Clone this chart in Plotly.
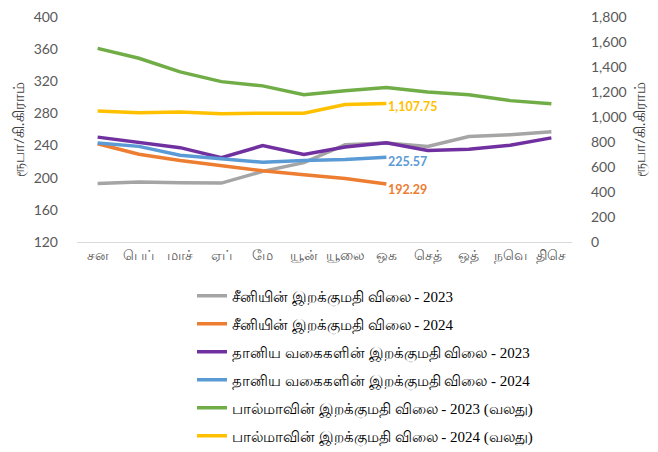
import plotly.graph_objects as go

months = ["சன", "பெப்", "மாச்", "ஏப்", "மே", "யூன்", "யூலை", "ஒக", "செத்", "ஒத்", "நவெ", "திசெ"]

sugar_2023 = [192.8, 194.8, 193.6, 193.3, 207.9, 218.8, 241.1, 243.2, 239.0, 251.2, 253.6, 257.3]
sugar_2024 = [242.3, 229.3, 221.3, 215.2, 208.6, 203.7, 199.0, 192.29]
cereal_2023 = [250.5, 244.4, 237.4, 224.9, 239.9, 228.9, 238.3, 243.5, 234.0, 235.4, 240.3, 249.6]
cereal_2024 = [243.2, 239.0, 228.0, 224.0, 219.2, 221.3, 222.8, 225.57]
milk_2023 = [1549, 1470, 1361, 1283, 1249, 1178, 1210, 1236, 1200, 1178, 1131, 1106]
milk_2024 = [1048, 1035, 1040, 1027, 1030, 1030, 1100, 1107.75]

names = [
    "சீனியின் இறக்குமதி விலை - 2023",
    "சீனியின் இறக்குமதி விலை - 2024",
    "தானிய வகைகளின் இறக்குமதி விலை - 2023",
    "தானிய வகைகளின் இறக்குமதி விலை - 2024",
    "பால்மாவின் இறக்குமதி விலை - 2023 (வலது)",
    "பால்மாவின் இறக்குமதி விலை - 2024 (வலது)",
]
colors = ["#A5A5A5", "#ED7D31", "#7030A0", "#5B9BD5", "#70AD47", "#FFC000"]
left_ticks = [120, 160, 200, 240, 280, 320, 360, 400]
right_ticks = [0, 200, 400, 600, 800, 1000, 1200, 1400, 1600, 1800]
axis_title = "ரூபா/கி.கிராம்"

series = [
    (sugar_2023, "y", False, 0),
    (sugar_2024, "y", True, -6),
    (cereal_2023, "y", False, 0),
    (cereal_2024, "y", True, -4),
    (milk_2023, "y2", False, 0),
    (milk_2024, "y2", True, -3),
]

fig = go.Figure()
for i, ((vals, ax, lab, ysh), name, col) in enumerate(zip(series, names, colors)):
    fig.add_trace(go.Scatter(
        x=months[:len(vals)], y=vals, name=name, yaxis=ax,
        mode="lines", legendgroup="g%d" % i,
        line=dict(color=col, width=3.5),
    ))
    if lab:
        fig.add_annotation(
            x=months[len(vals) - 1], y=vals[-1], xref="x", yref=ax,
            text="<b>{:,.2f}</b>".format(vals[-1]), showarrow=False,
            xanchor="left", yanchor="middle", xshift=0, yshift=ysh,
            font=dict(color=col, size=12.5, family="Lato"),
        )

W, H = 658, 452
L, R, T, B = 69, 94, 9, 217.5
tickfont = dict(family="Lato, Noto Sans", size=14, color="#595959")
fig.update_layout(
    width=W, height=H,
    margin=dict(l=L, r=R, t=T, b=B, autoexpand=False),
    paper_bgcolor="white", plot_bgcolor="white",
    showlegend=True,
    legend=dict(
        x=(184 - L) / (W - L - R), y=-(272 - (H - B)) / (H - B - T),
        xanchor="left", yanchor="top",
        font=dict(family="Liberation Serif, serif", size=15, color="#000000"),
        tracegroupgap=5.5, itemwidth=30,
        bgcolor="rgba(0,0,0,0)",
    ),
    xaxis=dict(
        type="category", range=[-0.5, len(months) - 0.5],
        showgrid=False, showline=True, linecolor="#D9D9D9",
        linewidth=1, ticks="", tickfont=tickfont, ticklabelstandoff=0, automargin=False,
    ),
    yaxis=dict(
        range=[120, 400], tickvals=left_ticks, showgrid=False, zeroline=False,
        ticks="", tickfont=tickfont, ticklabelstandoff=18, automargin=False,
        ticklabeloverflow="allow",
        title=dict(text=axis_title, font=dict(size=15, color="#404040"), standoff=6),
    ),
    yaxis2=dict(
        range=[0, 1800], tickvals=right_ticks, tickformat=",", overlaying="y", side="right",
        showgrid=False, zeroline=False, ticks="", tickfont=tickfont, ticklabelstandoff=18,
        automargin=False, ticklabeloverflow="allow",
        title=dict(text=axis_title, font=dict(size=15, color="#404040"), standoff=8),
    ),
)

fig.write_html("out.html")
